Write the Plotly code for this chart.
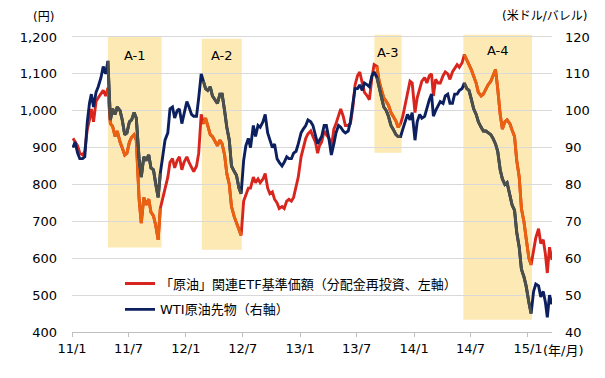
import pandas as pd
import plotly.graph_objects as go

# ---------------- data ----------------
# four readings per month (around the 4th, 11th, 19th, 26th)
month_starts = pd.date_range("2011-01-01", "2015-03-01", freq="MS")
days_in_month = [4, 11, 19, 26]

etf_by_month = [
    [925, 915, 905, 885], [880, 890, 950, 975], [1005, 970, 1025, 1035], [1045, 1055, 1040, 1062],
    [965, 958, 930, 945], [915, 900, 880, 885], [915, 928, 935, 920], [760, 695, 765, 745],
    [760, 725, 715, 690], [650, 735, 765, 790], [820, 860, 870, 845], [865, 875, 840, 860],
    [875, 860, 847, 835], [850, 885, 990, 965], [980, 960, 935, 930], [915, 905, 920, 910],
    [880, 830, 800, 740], [712, 695, 675, 662], [755, 772, 790, 790], [820, 805, 815, 805],
    [815, 830, 790, 775], [780, 760, 750, 735], [740, 735, 755, 760], [755, 765, 795, 820],
    [875, 895, 925, 937], [945, 930, 915, 885], [905, 915, 945, 935], [925, 900, 950, 965],
    [990, 1005, 985, 960], [960, 965, 1010, 1070], [1095, 1105, 1075, 1050], [1040, 1030, 1090, 1125],
    [1120, 1080, 1055, 1035], [1025, 1015, 995, 985], [972, 955, 965, 985], [1020, 1055, 1080, 1075],
    [995, 1035, 1060, 1080], [1090, 1075, 1095, 1100], [1040, 1085, 1075, 1075], [1095, 1105, 1100, 1085],
    [1105, 1115, 1125, 1118], [1130, 1152, 1135, 1125], [1110, 1095, 1075, 1050], [1040, 1045, 1060, 1070],
    [1080, 1095, 1112, 1060], [990, 950, 970, 975], [965, 948, 930, 865], [820, 735, 700, 655],
    [600, 582, 620, 655], [680, 640, 650, 610], [560, 630, 595],
]
wti_by_month = [
    [90, 91.5, 88.5, 87], [87, 87.5, 97, 102], [104.5, 101, 105, 106.5], [109, 112, 110, 113.5],
    [97.5, 100.5, 99, 101], [100, 97.5, 93.5, 94], [97, 97.5, 99.5, 98], [87, 82, 87.5, 86.5],
    [88, 84.5, 84, 80], [76.5, 83, 87.5, 92], [94, 100.5, 101, 98], [100, 100.5, 96.5, 99.5],
    [102.5, 101, 99, 98.5], [98.5, 103.5, 110, 108], [106, 105.5, 106.5, 104], [103, 102, 104.5, 104.5],
    [100, 95.5, 92, 85], [83.5, 82.5, 79, 77.5], [86.5, 90.5, 92.5, 90], [96, 93, 96, 95.5],
    [97, 99, 94, 92], [90, 91, 87, 86], [85, 86, 87.5, 87], [87, 88.5, 89, 91],
    [94, 95, 96, 97.5], [97, 96, 93, 91], [92, 93, 96, 96], [92, 88, 91, 94],
    [96, 95.5, 94.5, 94], [94.5, 97, 102, 106], [106, 107, 105.5, 107.5], [107, 106.5, 109.5, 110.5],
    [109, 106, 103.5, 101], [100, 98.5, 96, 95], [93.5, 93, 93, 95], [97.5, 99, 97.5, 99.5],
    [92, 97, 99, 98], [98.5, 101, 103, 104.5], [98.5, 100, 101.5, 102.5], [102, 104, 104.5, 102],
    [102, 104.5, 104.5, 105.5], [106, 107.5, 106, 105.5], [103, 100.5, 99, 97], [95.5, 94.5, 94.5, 94],
    [93.5, 92.5, 91, 89], [84, 81.5, 80, 80.5], [77, 74.5, 73, 67], [63, 57, 55, 52.5],
    [48, 45, 51, 53], [52.5, 49.5, 51, 48], [44, 50, 47.5],
]

# highlighted periods
period_labels = ["A-1", "A-2", "A-3", "A-4"]
period_start = ["2011-04-26", "2012-02-21", "2013-08-27", "2014-06-08"]
period_end = ["2011-10-15", "2012-06-28", "2013-11-22", "2015-01-14"]
period_low = [629, 623, 886, 433]
period_high = [1200, 1195, 1206, 1206]
period_label_y = [1150, 1150, 1159, 1164]

x_tick_suffix = "(年/月)"
left_unit = "(円)"
right_unit = "(米ドル/バレル)"
etf_name = "「原油」関連ETF基準価額（分配金再投資、左軸）"
wti_name = "WTI原油先物（右軸）"

# ---------------- build series ----------------
dates, etf, wti = [], [], []
for ms, er, wr in zip(month_starts, etf_by_month, wti_by_month):
    for d, e, w in zip(days_in_month, er, wr):
        dates.append(ms + pd.Timedelta(days=d - 1))
        etf.append(e)
        wti.append(w)
dates = pd.Series(dates)

RED = "#D8261E"
ORANGE = "#E8620F"
NAVY = "#0C1F5E"
GREY = "#4D5048"
BOX = "#FDE9B4"
FONT = "DejaVu Sans, Noto Sans CJK JP, sans-serif"
LW = 2.9

fig = go.Figure()
fig.add_trace(go.Scatter(x=dates, y=etf, mode="lines", name=etf_name, legendgroup="etf",
                         line=dict(color=RED, width=LW)))
for s, e in zip(period_start, period_end):
    m = (dates >= pd.Timestamp(s)) & (dates <= pd.Timestamp(e))
    fig.add_trace(go.Scatter(x=dates[m], y=[v for v, k in zip(etf, m) if k], mode="lines",
                             showlegend=False, legendgroup="etf", hoverinfo="skip",
                             line=dict(color=ORANGE, width=LW)))
fig.add_trace(go.Scatter(x=dates, y=wti, mode="lines", name=wti_name, legendgroup="wti",
                         yaxis="y2", line=dict(color=NAVY, width=LW)))
for s, e in zip(period_start, period_end):
    m = (dates >= pd.Timestamp(s)) & (dates <= pd.Timestamp(e))
    fig.add_trace(go.Scatter(x=dates[m], y=[v for v, k in zip(wti, m) if k], mode="lines",
                             showlegend=False, legendgroup="wti", hoverinfo="skip", yaxis="y2",
                             line=dict(color=GREY, width=LW)))

for lab, s, e, lo, hi, ly in zip(period_labels, period_start, period_end, period_low, period_high, period_label_y):
    fig.add_shape(type="rect", xref="x", yref="y", x0=s, x1=e, y0=lo, y1=hi,
                  fillcolor=BOX, line=dict(width=0), layer="below")
    mid = pd.Timestamp(s) + (pd.Timestamp(e) - pd.Timestamp(s)) / 2
    fig.add_annotation(x=mid, y=ly, xref="x", yref="y", text=lab, showarrow=False,
                       xanchor="center", yanchor="middle",
                       font=dict(size=13, color="#000000", family=FONT))

fig.add_annotation(xref="paper", yref="paper", x=-0.06, y=1.056, text=left_unit, showarrow=False,
                   xanchor="center", yanchor="middle",
                   font=dict(size=12, color="#000000", family=FONT))
fig.add_annotation(xref="paper", yref="paper", x=0.985, y=1.059, text=right_unit, showarrow=False,
                   xanchor="center", yanchor="middle",
                   font=dict(size=12, color="#000000", family=FONT))
fig.add_annotation(xref="paper", yref="paper", x=0.977, y=-0.062, xanchor="left", yanchor="middle",
                   text=x_tick_suffix, showarrow=False,
                   font=dict(size=13, color="#000000", family=FONT))

# the page body adds an 8px offset, so the figure is 8px smaller and margins shifted
fig.update_layout(
    template="none",
    width=597, height=370, autosize=False,
    margin=dict(l=64, r=53, t=26, b=46, pad=0),
    paper_bgcolor="white", plot_bgcolor="white",
    font=dict(family=FONT, size=13, color="#000000"),
    showlegend=True,
    legend=dict(x=0.1, y=0.213, xanchor="left", yanchor="top", bgcolor="rgba(0,0,0,0)",
                font=dict(size=13), traceorder="grouped", tracegroupgap=6),
    xaxis=dict(type="date", range=["2011-01-01", "2015-03-19"], tickmode="linear",
               tick0="2011-01-01", dtick="M6", tickformat="%y/%-m", ticks="outside",
               ticklen=4, tickcolor="#BFBFBF", showline=True, linecolor="#BFBFBF", linewidth=1,
               showgrid=False, zeroline=False, automargin=False, tickfont=dict(size=13)),
    yaxis=dict(range=[400, 1208], tickmode="linear", tick0=400, dtick=100, tickformat=",d",
               showgrid=True, gridcolor="#D9D9D9", gridwidth=1, zeroline=False, showline=False,
               ticks="", ticklabelstandoff=14, automargin=False, tickfont=dict(size=13)),
    yaxis2=dict(range=[40, 120.8], tickmode="linear", tick0=40, dtick=10, overlaying="y",
                side="right", showgrid=False, zeroline=False, showline=False, ticks="",
                ticklabelstandoff=12, automargin=False, tickfont=dict(size=13)),
)

fig.write_html("out.html")
